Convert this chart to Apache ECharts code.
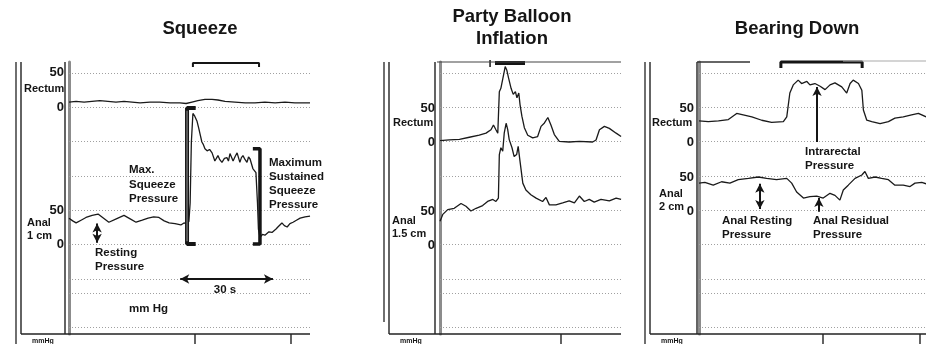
<!DOCTYPE html>
<html>
<head>
<meta charset="utf-8">
<script src="https://cdn.jsdelivr.net/npm/echarts@6/dist/echarts.min.js"></script>
<style>
  html, body { margin: 0; padding: 0; background: #fff; }
  #chart { width: 926px; height: 344px; }
</style>
</head>
<body>
<div id="chart"></div>
<script>
// Anorectal manometry traces: [time (s), pressure (mm Hg)]
const squeezeRectum = [[0,7],[2.3,8],[4.9,7],[7.4,8],[10,9],[12.6,8],[15.2,7],[17.8,8],[20.4,7],[23,6],[26.2,7],[29.4,7],[32.7,6],[35.9,6],[37.9,5],[39.8,7],[41.7,9],[44,11],[46.3,11],[48.2,10],[50.5,8],[53.7,7],[57,6],[60.2,6],[63.4,7],[66.7,6],[69.9,7],[73.1,6],[76.4,6],[78,6]];
const squeezeAnal = [[0,38],[1.2,34],[2.3,31],[3.9,35],[5.5,39],[7.5,42],[9.4,44],[11.2,38],[12.9,32],[15.3,37],[17.8,42],[19.8,37],[21.7,32],[23.7,35],[25.6,38],[27.4,40],[29.1,39],[30.8,34],[32.4,31],[34.3,30],[36.2,28],[37.2,31],[37.9,30],[38.8,33],[39.2,60],[39.6,150],[40.1,192],[40.7,188],[41.4,181],[42,170],[42.4,162],[43,150],[43.4,147],[44,140],[44.7,137],[45.5,139],[46.3,134],[47.2,122],[48.2,130],[48.8,124],[49.5,120],[50.3,126],[51.1,127],[51.6,122],[52.1,133],[53.1,122],[53.8,129],[54.4,134],[55.3,120],[55.8,127],[56.3,130],[57,124],[57.6,120],[58.1,128],[58.6,125],[59.5,111],[60.5,105],[61,60],[61.3,22],[61.8,10],[62.6,14],[63.4,13],[64.7,18],[65.7,17],[67,22],[67.6,25],[68.9,31],[69.7,27],[70.6,25],[71.5,30],[72.5,32],[73.6,35],[74.8,38],[76.4,40],[78,41]];
const balloonRectum = [[0,2],[3,3],[6.3,4],[9.5,7],[12.7,10],[14.9,13],[16.5,18],[17.3,25],[18.1,18],[18.7,13],[19.2,74],[19.7,79],[20.3,77],[20.8,104],[21.1,111],[21.6,106],[22.2,94],[23,79],[23.7,70],[24.4,74],[24.9,65],[25.5,72],[25.9,55],[26.5,38],[27.3,21],[28.4,10],[30,6],[31.6,8],[32.7,23],[33.8,28],[34.9,36],[35.9,25],[37,11],[38.6,1],[41.8,0],[45.1,1],[49.4,0],[50.5,3],[51.6,18],[53.2,23],[54.8,20],[57,13],[58.6,8]];
const balloonAnal = [[0,35],[0.9,45],[2.5,52],[4.6,54],[6.8,61],[8.4,57],[10,50],[11.7,54],[13.8,58],[15.4,64],[17.1,67],[18.1,64],[18.9,69],[19.2,133],[19.7,143],[20.3,138],[20.8,165],[21.4,179],[21.9,170],[22.4,155],[23.3,143],[24,130],[24.8,133],[25.3,145],[25.9,123],[26.8,91],[27.8,81],[29.4,74],[31.1,69],[33.2,64],[34.3,70],[35.4,59],[37.5,59],[39.7,62],[41.8,65],[43.5,62],[45.1,72],[46.7,64],[48.3,67],[49.9,63],[52.1,67],[54.8,65],[57,69],[58.6,67]];
const bearRectum = [[0,31],[3,30],[6.3,31],[9.5,33],[12.2,42],[14.3,40],[17.1,37],[20.3,32],[23.5,29],[27.3,30],[28.4,37],[29.4,72],[30.5,84],[32.1,91],[33.2,86],[34.9,89],[35.9,84],[37.5,86],[39.2,82],[40.8,77],[42.4,84],[44,87],[46.2,81],[47.8,72],[48.9,86],[49.9,91],[51.6,86],[52.7,76],[53.2,47],[54.3,32],[55.9,30],[58.6,27],[61.3,30],[63.4,35],[66.1,37],[68.8,40],[71,42],[73.5,37]];
const bearAnal = [[0,41],[1.9,42],[4.6,38],[7.3,43],[10,41],[12.7,46],[16,48],[19.2,50],[21.9,48],[25.1,46],[28.4,48],[30,41],[31.6,28],[33.8,19],[35.9,21],[38.1,22],[40.2,19],[42.4,26],[44,23],[45.6,16],[46.7,31],[48.3,38],[50.5,48],[52.7,53],[53.7,58],[54.8,48],[57,50],[59.1,48],[61.3,46],[63.4,38],[66.1,38],[68.3,36],[69.9,41],[72.1,42],[73.5,40]];

// Manoeuvre periods [start, end] in s
const squeezeEvent = [40.1, 61.5];
const balloonEvent = [17.8, 27.5];
const bearEvent = [26.5, 52.8];
const balloonCue = 16.2;

// Annotated pressure levels (mm Hg)
const maxSqueezeLevel = 200;
const sustainedLevel = 140;

// Channel scale: labelled ticks at 0 and 50 mm Hg, step 50
const channelTicks = [0, 50];
const channelStep = 50;

const panelTitles = [['Squeeze'], ['Party Balloon', 'Inflation'], ['Bearing Down']];
const channelNames = [
  [['Rectum'], ['Anal', '1 cm']],
  [['Rectum'], ['Anal', '1.5 cm']],
  [['Rectum'], ['Anal', '2 cm']]
];

// ---- layout ----
const FONT = '"Liberation Sans", Arial, Helvetica, sans-serif';
const TOP = 62, BASE = 334, PX_PER_S = 3.09;
const paperRules = [11, 45, 79, 114, 148, 182, 217, 231, 265]; // ruled paper lines, px below top
// each channel: pixel rows of its 50 and 0 mm Hg marks, plus the value range its grid spans
const layout = [
  { left: 69, width: 241,
    channels: [{ y50: 72, y0: 107, range: [-50, 100] }, { y50: 210, y0: 244, range: [-50, 200] }],
    outer: [16, 344], box: [21, 65], cuts: [195, 291],
    titleX: 200, titleY: [29], rectLabel: [24, 89], analLabel: [27, 223], ev: squeezeEvent, evW: 2, evTick: [1, 5] },
  { left: 440, width: 181,
    channels: [{ y50: 108, y0: 142, range: [-50, 150] }, { y50: 211, y0: 245, range: [-50, 200] }],
    outer: [384, 322], box: [389, 435], cuts: [561],
    titleX: 512, titleY: [17, 39], rectLabel: [393, 123], analLabel: [392, 221], ev: balloonEvent, evW: 4, evTick: [1, 1] },
  { left: 699, width: 227,
    channels: [{ y50: 108, y0: 142, range: [-50, 100] }, { y50: 177, y0: 211, range: [-50, 100] }],
    outer: [645, 344], box: [650, 697], cuts: [823, 920],
    titleX: 797, titleY: [29], rectLabel: [652, 123], analLabel: [659, 194], ev: bearEvent, evW: 3, evTick: [0, 6] }
];
const traces = [[squeezeRectum, squeezeAnal], [balloonRectum, balloonAnal], [bearRectum, bearAnal]];

const INK = '#151515';
const grids = [], xAxes = [], yAxes = [], series = [];

function text(x, y, s, size, align) {
  return { type: 'text', x, y, silent: true, z: 50,
    style: { text: s, fill: INK, font: `bold ${size}px ${FONT}`, align: align || 'left', verticalAlign: 'middle' } };
}
function textLines(x, y0, lh, lines, size, align) {
  return lines.map((s, i) => text(x, y0 + i * lh, s, size, align));
}
function seg(x1, y1, x2, y2, w, c) {
  return { type: 'line', silent: true, z: 40, shape: { x1, y1, x2, y2 }, style: { stroke: c || '#222', lineWidth: w || 1.2 } };
}
// an arrow drawn as a markLine between two data points of a channel
function arrowSeries(axis, from, to, heads) {
  return { type: 'line', xAxisIndex: axis, yAxisIndex: axis, data: [], clip: false, silent: true,
    markLine: { silent: true, animation: false, label: { show: false }, symbol: heads, symbolSize: [7, 9],
      lineStyle: { type: 'solid', color: INK, width: 2 },
      data: [[{ coord: from }, { coord: to }]] } };
}

layout.forEach((p, i) => {
  const span = p.width / PX_PER_S;
  const g0 = grids.length;
  grids.push({ left: p.left, width: p.width, top: TOP, height: BASE - TOP });
  p.channels.forEach(c => {
    const pxPer = (c.y0 - c.y50) / 50;
    grids.push({ left: p.left, width: p.width, top: c.y0 - c.range[1] * pxPer, height: (c.range[1] - c.range[0]) * pxPer });
  });

  for (let k = 0; k < 3; k++) {
    xAxes.push({ type: 'value', gridIndex: g0 + k, min: 0, max: span, show: false });
  }
  yAxes.push({ type: 'value', gridIndex: g0, min: 0, max: BASE - TOP, inverse: true,
    axisLine: { show: true, lineStyle: { color: '#8c8c8c', width: 3 } },
    axisTick: { show: false }, axisLabel: { show: false }, splitLine: { show: false } });
  p.channels.forEach((c, k) => {
    yAxes.push({ type: 'value', gridIndex: g0 + 1 + k, min: c.range[0], max: c.range[1], interval: channelStep,
      axisLine: { show: false }, axisTick: { show: false }, splitLine: { show: false },
      axisLabel: { color: INK, fontSize: 13, fontWeight: 'bold', fontFamily: FONT, margin: 5,
        showMinLabel: true, showMaxLabel: true,
        formatter: v => channelTicks.includes(v) ? String(v) : '' } });
  });

  // ruled lines
  series.push({ type: 'line', xAxisIndex: g0, yAxisIndex: g0, data: [], silent: true,
    markLine: { silent: true, symbol: 'none', animation: false, label: { show: false },
      lineStyle: { type: [1, 2], color: '#a0a0a0', width: 1 },
      data: paperRules.map(v => ({ yAxis: v })) } });
  // manoeuvre marker bar along the top
  series.push({ type: 'line', xAxisIndex: g0, yAxisIndex: g0, symbol: 'none', clip: false, silent: true,
    lineStyle: { color: INK, width: p.evW }, animation: false,
    data: [[p.ev[0], p.evTick[1]], [p.ev[0], p.evTick[0]], [p.ev[1], p.evTick[0]], [p.ev[1], p.evTick[1]]] });

  const lineStyle = { color: '#1a1a1a', width: 1.3 };
  series.push({ type: 'line', name: 'Rectum', xAxisIndex: g0 + 1, yAxisIndex: g0 + 1, data: traces[i][0],
    symbol: 'none', clip: false, lineStyle, animation: false, silent: true, z: 5 });
  series.push({ type: 'line', name: 'Anal', xAxisIndex: g0 + 2, yAxisIndex: g0 + 2, data: traces[i][1],
    symbol: 'none', clip: false, lineStyle, animation: false, silent: true, z: 5 });
});

// balloon cue tick ahead of the inflation bar
series.push({ type: 'line', xAxisIndex: 3, yAxisIndex: 3, symbol: 'none', clip: false, silent: true, animation: false,
  lineStyle: { color: INK, width: 1.5 }, data: [[balloonCue, -2], [balloonCue, 5]] });

// --- annotation marks ---
// Squeeze: max squeeze bracket, sustained bracket, resting arrow, 30 s arrow
series.push({ type: 'line', xAxisIndex: 2, yAxisIndex: 2, symbol: 'none', clip: false, silent: true, animation: false,
  lineStyle: { color: INK, width: 4 }, z: 6,
  data: [[41, maxSqueezeLevel], [38.2, maxSqueezeLevel], [38.2, 0], [41, 0]] });
series.push({ type: 'line', xAxisIndex: 2, yAxisIndex: 2, symbol: 'none', clip: false, silent: true, animation: false,
  lineStyle: { color: '#9a9a9a', width: 1 }, z: 7,
  data: [[38.2, maxSqueezeLevel - 4], [38.2, 4]] });
series.push({ type: 'line', xAxisIndex: 2, yAxisIndex: 2, symbol: 'none', clip: false, silent: true, animation: false,
  lineStyle: { color: INK, width: 3.5 }, z: 6,
  data: [[59.5, sustainedLevel], [61.8, sustainedLevel], [61.8, 0], [59.5, 0]] });
series.push(arrowSeries(2, [9.1, 30], [9.1, 2], ['arrow', 'arrow']));
series.push(arrowSeries(0, [36, 217], [66, 217], ['arrow', 'arrow']));
// Bearing down: intrarectal, anal resting, anal residual arrows
series.push(arrowSeries(7, [38.2, 0], [38.2, 81], ['none', 'arrow']));
series.push(arrowSeries(8, [19.7, 40], [19.7, 3], ['arrow', 'arrow']));
series.push(arrowSeries(8, [38.8, -1], [38.8, 19], ['none', 'arrow']));

// --- frame pieces and text ---
const graphics = [];
layout.forEach((p, i) => {
  const right = p.left + p.width;
  graphics.push(seg(p.outer[0], TOP, p.outer[0], p.outer[1], 1.4, '#333'));
  graphics.push(seg(p.box[0], TOP, p.box[0], BASE, 1.4, '#222'));
  graphics.push(seg(p.box[1], TOP, p.box[1], BASE, 1.4, '#222'));
  graphics.push(seg(p.box[0], BASE, right, BASE, 1.6, '#222'));
  p.cuts.forEach(x => graphics.push(seg(x, BASE, x, 344, 1.4, '#222')));
  graphics.push(...textLines(p.titleX, p.titleY[0], 22, panelTitles[i], 18.5, 'center'));
  graphics.push(...textLines(p.rectLabel[0], p.rectLabel[1], 13, channelNames[i][0], 11));
  graphics.push(...textLines(p.analLabel[0], p.analLabel[1], 13, channelNames[i][1], 11));
  graphics.push(text(p.box[0] + 11, 341, 'mmHg', 7));
});
graphics.push(seg(437, TOP, 621, TOP, 1.2, '#444'));
graphics.push(seg(697, TOP, 750, TOP, 1.4, '#333'));
graphics.push(seg(843, TOP - 1, 926, TOP - 1, 1.2, '#aaa'));

graphics.push(...textLines(129, 170, 14.5, ['Max.', 'Squeeze', 'Pressure'], 11.5));
graphics.push(...textLines(269, 163, 13.8, ['Maximum', 'Sustained', 'Squeeze', 'Pressure'], 11.5));
graphics.push(...textLines(95, 253, 14, ['Resting', 'Pressure'], 11.5));
graphics.push(text(129, 309, 'mm Hg', 11.5));
graphics.push(text(225, 290, '30 s', 11.5, 'center'));
graphics.push(...textLines(805, 152, 14, ['Intrarectal', 'Pressure'], 11.5));
graphics.push(...textLines(722, 221, 14, ['Anal Resting', 'Pressure'], 11.5));
graphics.push(...textLines(813, 221, 14, ['Anal Residual', 'Pressure'], 11.5));

const chart = echarts.init(document.getElementById('chart'), null, { renderer: 'canvas' });
chart.setOption({
  backgroundColor: '#fff',
  animation: false,
  grid: grids,
  xAxis: xAxes,
  yAxis: yAxes,
  series,
  graphic: { elements: graphics }
});
</script>
</body>
</html>
